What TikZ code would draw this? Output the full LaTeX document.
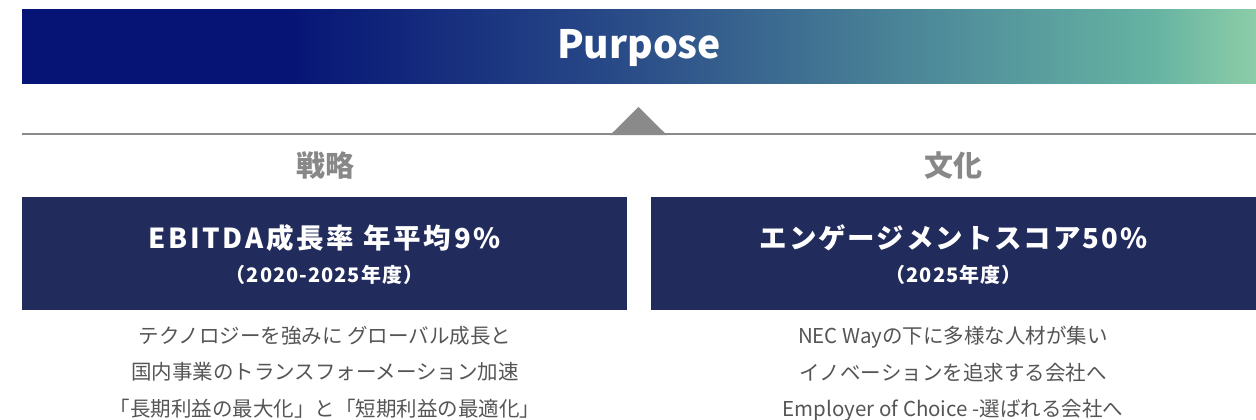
\documentclass[tikz,border=0pt]{standalone}
\usepackage{fontspec}
\setmainfont{Noto Sans CJK JP}
\definecolor{navyA}{HTML}{061575}
\definecolor{midB}{HTML}{2A4C88}
\definecolor{tealC}{HTML}{4F8C9A}
\definecolor{tealD}{HTML}{65B2A2}
\definecolor{greenE}{HTML}{8CCDA8}
\definecolor{boxnavy}{HTML}{212B5C}
\definecolor{headgray}{HTML}{888888}
\definecolor{bodygray}{HTML}{555555}
\definecolor{linegray}{HTML}{8A8A8A}
\pgfdeclarehorizontalshading{bannershade}{100bp}{color(0bp)=(navyA); color(35.9bp)=(navyA); color(49.5bp)=(midB); color(62.2bp)=(tealC); color(70.7bp)=(tealD); color(75bp)=(greenE); color(100bp)=(greenE)}
\tikzset{
  banner/.style={shading=bannershade, minimum width=1234pt, minimum height=74pt, inner sep=0pt, anchor=north west},
  purposetext/.style={text=white, font=\fontsize{39}{39}\selectfont\bfseries, inner sep=0pt},
  heading/.style={text=headgray, font=\fontsize{29}{29}\selectfont\bfseries, inner sep=0pt},
  kpibox/.style={fill=boxnavy, minimum width=605pt, minimum height=113pt, inner sep=0pt, anchor=north west},
  kpititle/.style={text=white, font=\fontsize{27.5}{27.5}\selectfont\bfseries, inner sep=0pt},
  kpisub/.style={text=white, font=\fontsize{20}{20}\selectfont\bfseries\addfontfeatures{LetterSpace=5}, inner sep=0pt},
  bodytext/.style={text=bodygray, font=\fontsize{20.5}{36.5}\selectfont, align=center, inner sep=0pt, anchor=north}
}
\begin{document}
\begin{tikzpicture}[x=1pt,y=-1pt]
\useasboundingbox (0,0) rectangle (1256,420);
\node[banner] (banner) at (22,9) {};
\node[purposetext] (purpose) at (639,48) {Purpose};
\draw[linegray, line width=2.5pt] (22,134) -- (1256,134);
\fill[linegray] (610,135.2) -- (638.5,107) -- (667,135.2) -- cycle;
\node[heading] (senryaku) at (325,166) {戦略};
\node[heading] (bunka) at (953,166) {文化};
\node[kpibox] (lbox) at (22,197) {};
\node[kpibox] (rbox) at (651,197) {};
\node[kpititle] (ltitle) at (324.5,238) {\addfontfeatures{LetterSpace=10}EBITDA成長率 年平均9\%};
\node[kpisub] (lsub) at (324.5,275) {（2020-2025年度）};
\node[kpititle] (rtitle) at (953.5,238) {\addfontfeatures{LetterSpace=7}エンゲージメントスコア50\%};
\node[kpisub] (rsub) at (953.5,275) {（2025年度）};
\node[bodytext] (lbody) at (325,326) {テクノロジーを強みに グローバル成長と\\国内事業のトランスフォーメーション加速\\「長期利益の最大化」と「短期利益の最適化」};
\node[bodytext] (rbody) at (953,326) {NEC Wayの下に多様な人材が集い\\イノベーションを追求する会社へ\\Employer of Choice -選ばれる会社へ};
\end{tikzpicture}
\end{document}
